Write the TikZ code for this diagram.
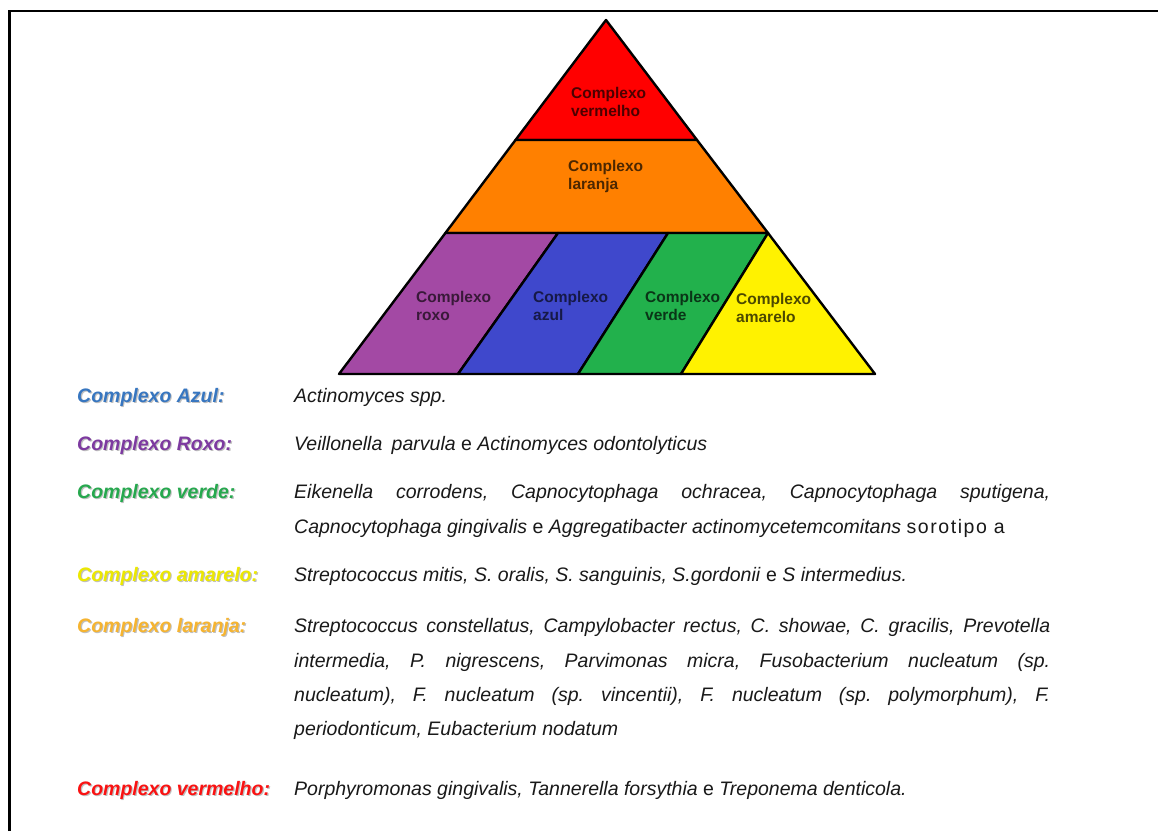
\documentclass[tikz,border=0pt]{standalone}
\usepackage{fontspec}
\setmainfont{Liberation Sans}
\definecolor{cRed}{RGB}{255,0,0}
\definecolor{cOrange}{RGB}{255,128,0}
\definecolor{cPurple}{RGB}{163,73,164}
\definecolor{cBlue}{RGB}{63,72,204}
\definecolor{cGreen}{RGB}{34,177,76}
\definecolor{cYellow}{RGB}{255,242,0}
\definecolor{lAzul}{RGB}{55,118,192}
\definecolor{lRoxo}{RGB}{125,58,160}
\definecolor{lVerde}{RGB}{38,168,78}
\definecolor{lAmarelo}{RGB}{236,232,0}
\definecolor{lLaranja}{RGB}{246,180,48}
\definecolor{lVermelho}{RGB}{250,18,18}
\definecolor{bodyc}{RGB}{25,25,25}
\newcommand{\bodyfnt}{\fontsize{19.5}{35}\selectfont\frenchspacing}
\newcommand{\lblfnt}{\fontsize{19.5}{35}\selectfont\bfseries\itshape}
\newcommand{\trifnt}{\fontsize{15.5}{18}\selectfont\bfseries}
\newcommand{\jline}[1]{\makebox[756pt][s]{#1}}
\newcommand{\mylegend}[4]{%
  \node[lbl, text=black!45, opacity=0.55] (#1s) at (78.2,#2+1.2) {#4};
  \node[lbl, text=#3] (#1) at (77,#2) {#4};}
\begin{document}
\frenchspacing
\begin{tikzpicture}[x=1pt,y=-1pt,
  tri/.style={draw=black, line width=2.4pt, line join=round},
  tlab/.style={anchor=base west, inner sep=0pt, font=\trifnt},
  lbl/.style={anchor=base west, inner sep=0pt, font=\lblfnt},
  body/.style={anchor=base west, inner sep=0pt, font=\bodyfnt, text=bodyc}]
\useasboundingbox (0,0) rectangle (1158,831);
\fill[white] (0,0) rectangle (1158,831);
% frame
\draw[line width=2.4pt] (9.5,831) -- (9.5,11) -- (1158,11);
% pyramid coordinates
\coordinate (A) at (606,20);
\coordinate (BL) at (339,374);
\coordinate (BR) at (875,374);
\coordinate (R1) at (515.5,140);
\coordinate (R2) at (697,140);
\coordinate (O1) at (445.4,233);
\coordinate (O2) at (768,233);
\coordinate (P1) at (558,233);
\coordinate (P1b) at (458,374);
\coordinate (P2) at (668,233);
\coordinate (P2b) at (578,374);
\coordinate (P3b) at (681,374);
% regions
\filldraw[tri, fill=cRed] (A) -- (R2) -- (R1) -- cycle;
\filldraw[tri, fill=cOrange] (R1) -- (R2) -- (O2) -- (O1) -- cycle;
\filldraw[tri, fill=cPurple] (O1) -- (P1) -- (P1b) -- (BL) -- cycle;
\filldraw[tri, fill=cBlue] (P1) -- (P2) -- (P2b) -- (P1b) -- cycle;
\filldraw[tri, fill=cGreen] (P2) -- (O2) -- (P3b) -- (P2b) -- cycle;
\filldraw[tri, fill=cYellow] (O2) -- (BR) -- (P3b) -- cycle;
% pyramid labels
\node[tlab, text=cRed!30!black] (tv1) at (571,98) {Complexo};
\node[tlab, text=cRed!30!black] (tv2) at (571,116) {vermelho};
\node[tlab, text=cOrange!30!black] (tl1) at (568,171) {Complexo};
\node[tlab, text=cOrange!30!black] (tl2) at (568,189) {laranja};
\node[tlab, text=cPurple!35!black] (tr1) at (416,302) {Complexo};
\node[tlab, text=cPurple!35!black] (tr2) at (416,320) {roxo};
\node[tlab, text=cBlue!35!black] (ta1) at (533,302) {Complexo};
\node[tlab, text=cBlue!35!black] (ta2) at (533,320) {azul};
\node[tlab, text=cGreen!30!black] (tg1) at (645,302) {Complexo};
\node[tlab, text=cGreen!30!black] (tg2) at (645,320) {verde};
\node[tlab, text=cYellow!30!black] (ty1) at (736,304) {Complexo};
\node[tlab, text=cYellow!30!black] (ty2) at (736,322) {amarelo};
% legend labels
\mylegend{la}{402}{lAzul}{Complexo Azul:}
\mylegend{lr}{450}{lRoxo}{Complexo Roxo:}
\mylegend{lg}{498}{lVerde}{Complexo verde:}
\mylegend{ly}{581}{lAmarelo}{Complexo amarelo:}
\mylegend{ll}{632}{lLaranja}{Complexo laranja:}
\mylegend{lv}{795}{lVermelho}{Complexo vermelho:}
% legend texts
\node[body] (ba) at (294,402) {\textit{Actinomyces spp.}};
\node[body] (br) at (294,450) {\textit{Veillonella}\hspace{4pt} \textit{parvula} e \textit{Actinomyces odontolyticus}};
\node[body] (bg1) at (294,498) {\jline{\itshape Eikenella corrodens, Capnocytophaga ochracea, Capnocytophaga sputigena,}};
\node[body] (bg2) at (294,533) {\textit{Capnocytophaga gingivalis} e \textit{Aggregatibacter actinomycetemcomitans} {\addfontfeature{LetterSpace=8}sorotipo a}};
\node[body] (by) at (294,581) {\textit{Streptococcus mitis, S. oralis, S. sanguinis, S.gordonii} e \textit{S intermedius.}};
\node[body] (bl1) at (294,632) {\jline{\itshape Streptococcus constellatus, Campylobacter rectus, C. showae, C. gracilis, Prevotella}};
\node[body] (bl2) at (294,667) {\jline{\itshape intermedia, P. nigrescens, Parvimonas micra, Fusobacterium nucleatum (sp.}};
\node[body] (bl3) at (294,701) {\jline{\itshape nucleatum), F. nucleatum (sp. vincentii), F. nucleatum (sp. polymorphum), F.}};
\node[body] (bl4) at (294,735) {\textit{periodonticum, Eubacterium nodatum}};
\node[body] (bv) at (294,795) {\textit{Porphyromonas gingivalis, Tannerella forsythia} e \textit{Treponema denticola.}};
\end{tikzpicture}
\end{document}
